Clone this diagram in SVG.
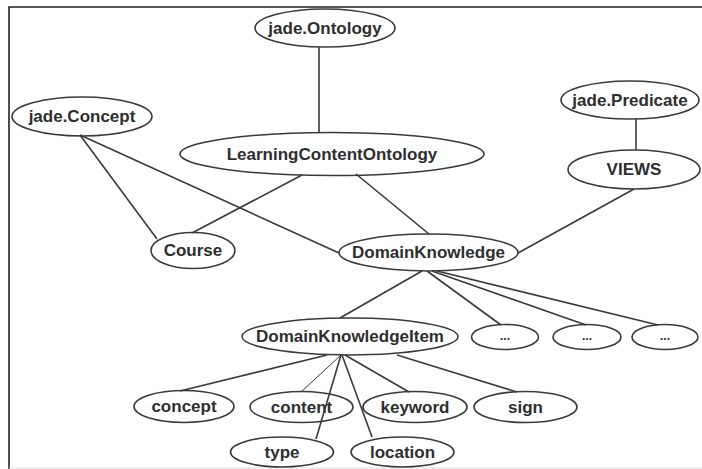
<svg xmlns="http://www.w3.org/2000/svg" width="702" height="469" viewBox="0 0 702 469">
<style>
.n ellipse{fill:#fff;stroke:#3a3a3a;stroke-width:1.6}
.n text{font-family:"Liberation Sans",Arial,sans-serif;font-weight:bold;font-size:17px;fill:#2e2e2e;text-anchor:middle;dominant-baseline:central}
.n text.d{font-size:12px}
#edges line{stroke:#3a3a3a;stroke-width:1.6}
#edges line.thin{stroke-width:1}
.frame{stroke:#222;stroke-width:1.6;fill:none}
</style>
<rect x="0" y="0" width="702" height="469" fill="#fff"/>
<path class="frame" d="M9,469 V7 H702"/>
<line x1="9" y1="468" x2="702" y2="468" stroke="#ddd" stroke-width="1"/>
<g id="jade-ontology" class="n"><ellipse cx="325" cy="28" rx="70" ry="19"/><text x="325" y="28">jade.Ontology</text></g>
<g id="jade-concept" class="n"><ellipse cx="82" cy="116.5" rx="70" ry="19.5"/><text x="82" y="116.5">jade.Concept</text></g>
<g id="learning-content-ontology" class="n"><ellipse cx="332" cy="154" rx="152" ry="21.5"/><text x="332" y="154">LearningContentOntology</text></g>
<g id="jade-predicate" class="n"><ellipse cx="630" cy="100" rx="69" ry="19"/><text x="630" y="100">jade.Predicate</text></g>
<g id="views" class="n"><ellipse cx="634" cy="169.5" rx="66" ry="19.5"/><text x="634" y="169.5">VIEWS</text></g>
<g id="course" class="n"><ellipse cx="193" cy="250.5" rx="42" ry="18"/><text x="193" y="250.5">Course</text></g>
<g id="domain-knowledge" class="n"><ellipse cx="428.5" cy="252.5" rx="89.5" ry="18.5"/><text x="428.5" y="252.5">DomainKnowledge</text></g>
<g id="domain-knowledge-item" class="n"><ellipse cx="350" cy="336.5" rx="108" ry="18.5"/><text x="350" y="336.5">DomainKnowledgeItem</text></g>
<g id="more1" class="n"><ellipse cx="505" cy="337" rx="33.5" ry="12.5"/><text class="d" x="505" y="336">...</text></g>
<g id="more2" class="n"><ellipse cx="587" cy="337" rx="34" ry="12.5"/><text class="d" x="587" y="336">...</text></g>
<g id="more3" class="n"><ellipse cx="665" cy="337" rx="33" ry="12.5"/><text class="d" x="665" y="336">...</text></g>
<g id="concept" class="n"><ellipse cx="184" cy="406.5" rx="50" ry="16"/><text x="184" y="406.5">concept</text></g>
<g id="content" class="n"><ellipse cx="301.5" cy="407" rx="51.5" ry="15.5"/><text x="301.5" y="407">content</text></g>
<g id="keyword" class="n"><ellipse cx="415" cy="407" rx="52" ry="15.5"/><text x="415" y="407">keyword</text></g>
<g id="sign" class="n"><ellipse cx="525.5" cy="407" rx="51.5" ry="15.5"/><text x="525.5" y="407">sign</text></g>
<g id="type" class="n"><ellipse cx="282" cy="452" rx="51.5" ry="15"/><text x="282" y="452">type</text></g>
<g id="location" class="n"><ellipse cx="402.5" cy="452" rx="51.5" ry="15"/><text x="402.5" y="452">location</text></g>
<g id="edges">
<line x1="319" y1="47" x2="319" y2="133"/>
<line x1="636" y1="119" x2="636" y2="150"/>
<line x1="80" y1="135" x2="157" y2="239"/>
<line x1="80" y1="135" x2="339" y2="253"/>
<line x1="302" y1="175" x2="192" y2="233"/>
<line x1="356" y1="174" x2="429" y2="234"/>
<line x1="634" y1="189" x2="518" y2="253"/>
<line x1="422" y1="271" x2="340" y2="318"/>
<line x1="427" y1="271" x2="501" y2="325"/>
<line x1="432" y1="271" x2="586" y2="325"/>
<line x1="437" y1="271" x2="658" y2="325"/>
<line x1="327" y1="355" x2="180" y2="391"/>
<line class="thin" x1="341" y1="355" x2="301" y2="392"/>
<line x1="341" y1="355" x2="316" y2="439"/>
<line x1="342" y1="355" x2="372" y2="437"/>
<line x1="345" y1="355" x2="409" y2="392"/>
<line x1="397" y1="355" x2="517" y2="392"/>
</g>
</svg>
